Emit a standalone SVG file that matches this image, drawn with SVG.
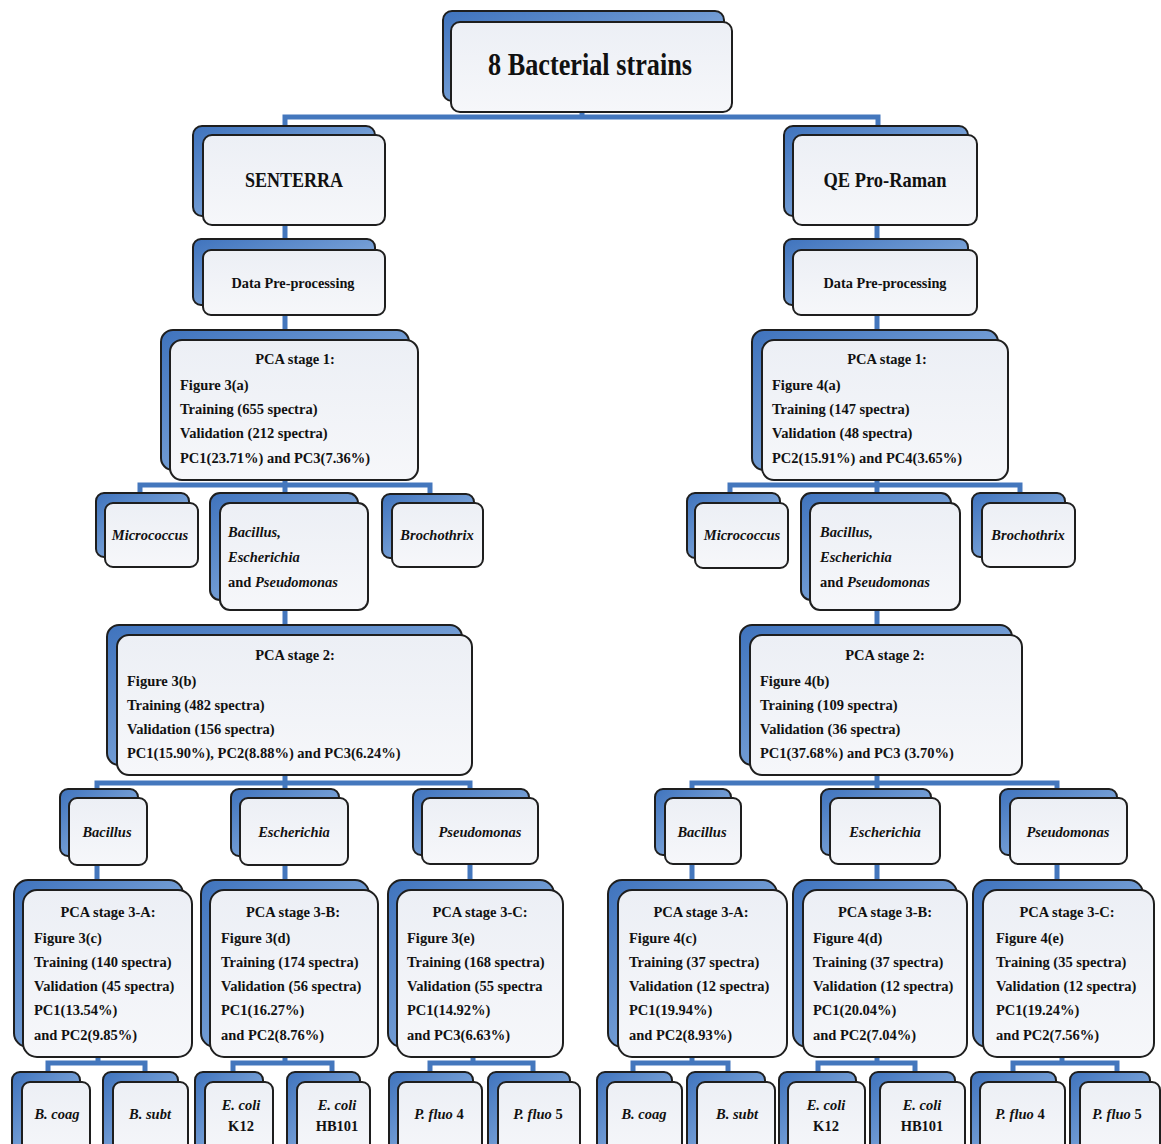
<svg xmlns="http://www.w3.org/2000/svg" width="1161" height="1144" viewBox="0 0 1161 1144">
<defs>
<linearGradient id="gb" x1="0" y1="0" x2="1" y2="1">
<stop offset="0" stop-color="#3f73bd"/>
<stop offset="0.5" stop-color="#6f9ad3"/>
<stop offset="1" stop-color="#b4cbea"/>
</linearGradient>
<linearGradient id="gf" x1="0" y1="0" x2="0" y2="1">
<stop offset="0" stop-color="#eceff5"/>
<stop offset="1" stop-color="#f6f7fa"/>
</linearGradient>
<style>
.bk{fill:url(#gb);stroke:#1e1e1e;stroke-width:2}
.fr{fill:url(#gf);stroke:#1e1e1e;stroke-width:2}
.c{fill:none;stroke:#4477bd;stroke-width:5}
text{font-family:"Liberation Serif","Times New Roman",serif;font-weight:bold;fill:#111;font-size:14.5px}
.m{text-anchor:middle}
.i{font-style:italic}
.big{font-size:31px}
.h{font-size:22px}
.dp{font-size:14.5px}
</style>
</defs>
<rect width="1161" height="1144" fill="#ffffff"/>
<g id="connectors">
<path class="c" d="M285,126 V117 H878 V126 M582,112 V117"/>
<path class="c" d="M285,225 V240 M285,315 V330 M285,480 V494 M140,494 V485 H430 V494 M285,610 V625 M285,775 V790 M97,790 V783 H470 V790 M97,865 V880 M285,865 V880 M470,864 V880"/>
<path class="c" d="M98,1057 V1063 M48,1072 V1063 H145 V1072 M285,1057 V1063 M233,1072 V1063 H332 V1072 M473,1057 V1063 M430,1072 V1063 H533 V1072"/>
<path class="c" d="M877,225 V240 M877,315 V330 M877,480 V494 M730,494 V485 H1020 V494 M877,610 V625 M877,775 V790 M692,790 V783 H1057 V790 M692,864 V880 M877,864 V880 M1057,864 V880"/>
<path class="c" d="M692,1057 V1063 M633,1072 V1063 H728 V1072 M877,1057 V1063 M818,1072 V1063 H915 V1072 M1062,1057 V1063 M1013,1072 V1063 H1117 V1072"/>
</g>
<g id="n-top"><rect class="bk" x="443" y="11" width="281" height="90" rx="9"/><rect class="fr" x="451" y="22" width="281" height="90" rx="9"/><text class="m big" x="590" y="75" textLength="204" lengthAdjust="spacingAndGlyphs">8 Bacterial strains</text></g>
<g id="n-senterra"><rect class="bk" x="193" y="126" width="182" height="90" rx="9"/><rect class="fr" x="203" y="135" width="182" height="90" rx="9"/><text class="m h" x="294" y="187" textLength="98" lengthAdjust="spacingAndGlyphs">SENTERRA</text></g>
<g id="n-qe"><rect class="bk" x="784" y="126" width="184" height="90" rx="9"/><rect class="fr" x="793" y="135" width="184" height="90" rx="9"/><text class="m h" x="885" y="187" textLength="123" lengthAdjust="spacingAndGlyphs">QE Pro-Raman</text></g>
<g id="n-dp-l"><rect class="bk" x="193" y="239" width="182" height="66" rx="8"/><rect class="fr" x="203" y="250" width="182" height="65" rx="8"/><text class="m dp" x="293" y="288" textLength="123" lengthAdjust="spacingAndGlyphs">Data Pre-processing</text></g>
<g id="n-dp-r"><rect class="bk" x="784" y="239" width="184" height="66" rx="8"/><rect class="fr" x="793" y="250" width="184" height="65" rx="8"/><text class="m dp" x="885" y="288" textLength="123" lengthAdjust="spacingAndGlyphs">Data Pre-processing</text></g>
<g id="n-pca1-l"><rect class="bk" x="161" y="330" width="248" height="140" rx="12"/><rect class="fr" x="170" y="340" width="248" height="140" rx="12"/>
<text class="m" x="295" y="364">PCA stage 1:</text><text x="180" y="390">Figure 3(a)</text><text x="180" y="414">Training (655 spectra)</text><text x="180" y="438">Validation (212 spectra)</text><text x="180" y="463">PC1(23.71%) and PC3(7.36%)</text></g>
<g id="n-pca1-r"><rect class="bk" x="752" y="330" width="246" height="140" rx="12"/><rect class="fr" x="762" y="340" width="246" height="140" rx="12"/>
<text class="m" x="887" y="364">PCA stage 1:</text><text x="772" y="390">Figure 4(a)</text><text x="772" y="414">Training (147 spectra)</text><text x="772" y="438">Validation (48 spectra)</text><text x="772" y="463">PC2(15.91%) and PC4(3.65%)</text></g>
<g id="n-micro-l"><rect class="bk" x="96" y="493" width="93" height="64" rx="8"/><rect class="fr" x="105" y="503" width="93" height="64" rx="8"/><text class="m i" x="150" y="540">Micrococcus</text></g>
<g id="n-bep-l"><rect class="bk" x="210" y="493" width="148" height="107" rx="10"/><rect class="fr" x="220" y="503" width="148" height="107" rx="10"/>
<text class="i" x="228" y="537">Bacillus,</text><text class="i" x="228" y="562">Escherichia</text><text x="228" y="587">and <tspan class="i">Pseudomonas</tspan></text></g>
<g id="n-broch-l"><rect class="bk" x="382" y="494" width="92" height="64" rx="8"/><rect class="fr" x="392" y="503" width="91" height="64" rx="8"/><text class="m i" x="437" y="540">Brochothrix</text></g>
<g id="n-micro-r"><rect class="bk" x="687" y="493" width="93" height="65" rx="8"/><rect class="fr" x="695" y="503" width="93" height="65" rx="8"/><text class="m i" x="742" y="540">Micrococcus</text></g>
<g id="n-bep-r"><rect class="bk" x="801" y="493" width="150" height="107" rx="10"/><rect class="fr" x="810" y="503" width="150" height="107" rx="10"/>
<text class="i" x="820" y="537">Bacillus,</text><text class="i" x="820" y="562">Escherichia</text><text x="820" y="587">and <tspan class="i">Pseudomonas</tspan></text></g>
<g id="n-broch-r"><rect class="bk" x="972" y="493" width="93" height="64" rx="8"/><rect class="fr" x="982" y="503" width="93" height="64" rx="8"/><text class="m i" x="1028" y="540">Brochothrix</text></g>
<g id="n-pca2-l"><rect class="bk" x="107" y="625" width="355" height="140" rx="12"/><rect class="fr" x="117" y="635" width="355" height="140" rx="12"/>
<text class="m" x="295" y="660">PCA stage 2:</text><text x="127" y="686">Figure 3(b)</text><text x="127" y="710">Training (482 spectra)</text><text x="127" y="734">Validation (156 spectra)</text><text x="127" y="758">PC1(15.90%), PC2(8.88%) and PC3(6.24%)</text></g>
<g id="n-pca2-r"><rect class="bk" x="740" y="625" width="272" height="140" rx="12"/><rect class="fr" x="750" y="635" width="272" height="140" rx="12"/>
<text class="m" x="885" y="660">PCA stage 2:</text><text x="760" y="686">Figure 4(b)</text><text x="760" y="710">Training (109 spectra)</text><text x="760" y="734">Validation (36 spectra)</text><text x="760" y="758">PC1(37.68%) and PC3 (3.70%)</text></g>
<g id="n-bac-l"><rect class="bk" x="60" y="789" width="78" height="67" rx="8"/><rect class="fr" x="69" y="798" width="78" height="67" rx="8"/><text class="m i" x="107" y="837">Bacillus</text></g>
<g id="n-esc-l"><rect class="bk" x="231" y="789" width="108" height="67" rx="8"/><rect class="fr" x="240" y="798" width="108" height="67" rx="8"/><text class="m i" x="294" y="837">Escherichia</text></g>
<g id="n-pse-l"><rect class="bk" x="413" y="789" width="116" height="66" rx="8"/><rect class="fr" x="422" y="798" width="116" height="66" rx="8"/><text class="m i" x="480" y="837">Pseudomonas</text></g>
<g id="n-bac-r"><rect class="bk" x="655" y="789" width="76" height="66" rx="8"/><rect class="fr" x="665" y="798" width="76" height="66" rx="8"/><text class="m i" x="702" y="837">Bacillus</text></g>
<g id="n-esc-r"><rect class="bk" x="821" y="789" width="110" height="66" rx="8"/><rect class="fr" x="830" y="798" width="110" height="66" rx="8"/><text class="m i" x="885" y="837">Escherichia</text></g>
<g id="n-pse-r"><rect class="bk" x="1000" y="789" width="117" height="66" rx="8"/><rect class="fr" x="1010" y="798" width="117" height="66" rx="8"/><text class="m i" x="1068" y="837">Pseudomonas</text></g>
<g id="n-3a-l"><rect class="bk" x="14" y="880" width="169" height="167" rx="14"/><rect class="fr" x="23" y="890" width="169" height="167" rx="14"/>
<text class="m" x="108" y="917">PCA stage 3-A:</text><text x="34" y="943">Figure 3(c)</text><text x="34" y="967">Training (140 spectra)</text><text x="34" y="991">Validation (45 spectra)</text><text x="34" y="1015">PC1(13.54%)</text><text x="34" y="1040">and PC2(9.85%)</text></g>
<g id="n-3b-l"><rect class="bk" x="201" y="880" width="168" height="167" rx="14"/><rect class="fr" x="210" y="890" width="168" height="167" rx="14"/>
<text class="m" x="293" y="917">PCA stage 3-B:</text><text x="221" y="943">Figure 3(d)</text><text x="221" y="967">Training (174 spectra)</text><text x="221" y="991">Validation (56 spectra)</text><text x="221" y="1015">PC1(16.27%)</text><text x="221" y="1040">and PC2(8.76%)</text></g>
<g id="n-3c-l"><rect class="bk" x="388" y="880" width="166" height="167" rx="14"/><rect class="fr" x="397" y="890" width="166" height="167" rx="14"/>
<text class="m" x="480" y="917">PCA stage 3-C:</text><text x="407" y="943">Figure 3(e)</text><text x="407" y="967">Training (168 spectra)</text><text x="407" y="991">Validation (55 spectra</text><text x="407" y="1015">PC1(14.92%)</text><text x="407" y="1040">and PC3(6.63%)</text></g>
<g id="n-3a-r"><rect class="bk" x="608" y="880" width="169" height="167" rx="14"/><rect class="fr" x="618" y="890" width="169" height="167" rx="14"/>
<text class="m" x="701" y="917">PCA stage 3-A:</text><text x="629" y="943">Figure 4(c)</text><text x="629" y="967">Training (37 spectra)</text><text x="629" y="991">Validation (12 spectra)</text><text x="629" y="1015">PC1(19.94%)</text><text x="629" y="1040">and PC2(8.93%)</text></g>
<g id="n-3b-r"><rect class="bk" x="793" y="880" width="164" height="167" rx="14"/><rect class="fr" x="803" y="890" width="164" height="167" rx="14"/>
<text class="m" x="885" y="917">PCA stage 3-B:</text><text x="813" y="943">Figure 4(d)</text><text x="813" y="967">Training (37 spectra)</text><text x="813" y="991">Validation (12 spectra)</text><text x="813" y="1015">PC1(20.04%)</text><text x="813" y="1040">and PC2(7.04%)</text></g>
<g id="n-3c-r"><rect class="bk" x="973" y="880" width="170" height="167" rx="14"/><rect class="fr" x="983" y="890" width="171" height="167" rx="14"/>
<text class="m" x="1067" y="917">PCA stage 3-C:</text><text x="996" y="943">Figure 4(e)</text><text x="996" y="967">Training (35 spectra)</text><text x="996" y="991">Validation (12 spectra)</text><text x="996" y="1015">PC1(19.24%)</text><text x="996" y="1040">and PC2(7.56%)</text></g>
<g id="n-bcoag-l"><rect class="bk" x="12" y="1072" width="68" height="80" rx="8"/><rect class="fr" x="22" y="1082" width="68" height="80" rx="8"/><text class="m i" x="57" y="1119">B. coag</text></g>
<g id="n-bsubt-l"><rect class="bk" x="103" y="1072" width="75" height="80" rx="8"/><rect class="fr" x="113" y="1082" width="75" height="80" rx="8"/><text class="m i" x="150" y="1119">B. subt</text></g>
<g id="n-k12-l"><rect class="bk" x="195" y="1072" width="68" height="80" rx="8"/><rect class="fr" x="205" y="1082" width="68" height="80" rx="8"/><text class="m i" x="241" y="1110">E. coli</text><text class="m" x="241" y="1131">K12</text></g>
<g id="n-hb-l"><rect class="bk" x="287" y="1072" width="73" height="80" rx="8"/><rect class="fr" x="297" y="1082" width="73" height="80" rx="8"/><text class="m i" x="337" y="1110">E. coli</text><text class="m" x="337" y="1131">HB101</text></g>
<g id="n-pf4-l"><rect class="bk" x="389" y="1072" width="84" height="80" rx="8"/><rect class="fr" x="398" y="1082" width="84" height="80" rx="8"/><text class="m" x="439" y="1119"><tspan class="i">P. fluo</tspan> 4</text></g>
<g id="n-pf5-l"><rect class="bk" x="488" y="1072" width="82" height="80" rx="8"/><rect class="fr" x="498" y="1082" width="82" height="80" rx="8"/><text class="m" x="538" y="1119"><tspan class="i">P. fluo</tspan> 5</text></g>
<g id="n-bcoag-r"><rect class="bk" x="597" y="1072" width="75" height="80" rx="8"/><rect class="fr" x="607" y="1082" width="75" height="80" rx="8"/><text class="m i" x="644" y="1119">B. coag</text></g>
<g id="n-bsubt-r"><rect class="bk" x="687" y="1072" width="78" height="80" rx="8"/><rect class="fr" x="697" y="1082" width="78" height="80" rx="8"/><text class="m i" x="737" y="1119">B. subt</text></g>
<g id="n-k12-r"><rect class="bk" x="779" y="1072" width="77" height="80" rx="8"/><rect class="fr" x="788" y="1082" width="77" height="80" rx="8"/><text class="m i" x="826" y="1110">E. coli</text><text class="m" x="826" y="1131">K12</text></g>
<g id="n-hb-r"><rect class="bk" x="870" y="1072" width="85" height="80" rx="8"/><rect class="fr" x="880" y="1082" width="85" height="80" rx="8"/><text class="m i" x="922" y="1110">E. coli</text><text class="m" x="922" y="1131">HB101</text></g>
<g id="n-pf4-r"><rect class="bk" x="971" y="1072" width="85" height="80" rx="8"/><rect class="fr" x="980" y="1082" width="85" height="80" rx="8"/><text class="m" x="1020" y="1119"><tspan class="i">P. fluo</tspan> 4</text></g>
<g id="n-pf5-r"><rect class="bk" x="1070" y="1072" width="80" height="80" rx="8"/><rect class="fr" x="1080" y="1082" width="80" height="80" rx="8"/><text class="m" x="1117" y="1119"><tspan class="i">P. fluo</tspan> 5</text></g>
</svg>
